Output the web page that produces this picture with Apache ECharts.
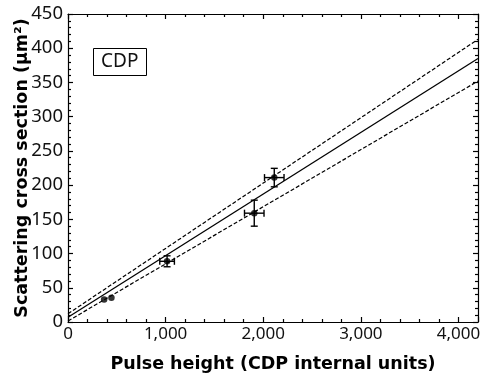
<!DOCTYPE html>
<html><head><meta charset="utf-8">
<script src="https://cdn.jsdelivr.net/npm/echarts@6/dist/echarts.min.js"></script>
<style>html,body{margin:0;padding:0;background:#fff}#c{width:480px;height:374px}</style>
</head><body><div id="c"></div>
<script>
var pulseHeight = [370, 445, 1015, 1908, 2113];
var crossSection = [33, 35.5, 88.7, 159, 211];
var pulseErr = [0, 0, 75, 100, 100];
var sectionErr = [0, 0, 8, 19, 13.5];
var fitX = [0, 4200];
var fitMid = [7, 385];
var fitUpper = [12, 413];
var fitLower = [1.5, 352];
var xTicks = [0, 1000, 2000, 3000, 4000];
var yTicks = [0, 50, 100, 150, 200, 250, 300, 350, 400, 450];

var F = 'DejaVu Sans';
var FL = 'Noto Sans';
var pts = pulseHeight.map(function(x,i){return [x, crossSection[i]];});
var errData = pulseHeight.map(function(x,i){return [x, crossSection[i], pulseErr[i], sectionErr[i]];});
function lineData(ys){return fitX.map(function(x,i){return [x, ys[i]];});}

var chart = echarts.init(document.getElementById('c'), null, {renderer:'canvas'});
var axisCommon = {
  type:'value',
  axisLine:{show:true, onZero:false, lineStyle:{color:'#000', width:1.2}},
  axisTick:{show:true, inside:true, length:5, lineStyle:{color:'#000', width:1.2}},
  minorTick:{show:true, splitNumber:5, length:3, lineStyle:{color:'#000', width:1.2}},
  splitLine:{show:false}
};
function merge(a,b){return Object.assign({}, JSON.parse(JSON.stringify(a)), b);}

chart.setOption({
  animation:false,
  backgroundColor:'#fff',
  title:{
    text:'CDP', left:93, top:48, padding:[4,8,4,8],
    borderColor:'#000', borderWidth:1,
    textStyle:{fontFamily:FL, fontSize:19, fontWeight:'normal', color:'#111', lineHeight:20}
  },
  grid:{left:68, right:2, top:14, bottom:52, containLabel:false, outerBoundsMode:'none'},
  xAxis:[
    merge(axisCommon,{min:0, max:4200, interval:1000, position:'bottom',
      name:'Pulse height (CDP internal units)', nameLocation:'middle', nameGap:33, nameMoveOverlap:false,
      nameTextStyle:{fontFamily:F, fontSize:17.5, fontWeight:'bold', color:'#000'},
      axisLabel:{show:true, fontFamily:FL, fontSize:17, color:'#111', margin:4, showMaxLabel:false,
        formatter:function(v){return xTicks.indexOf(v)>=0 ? v.toLocaleString('en-US') : '';}}}),
    merge(axisCommon,{min:0, max:4200, interval:1000, position:'top', axisLabel:{show:false}})
  ],
  yAxis:[
    merge(axisCommon,{min:0, max:450, interval:50, position:'left',
      name:'Scattering cross section (µm²)', nameLocation:'middle', nameGap:37, nameMoveOverlap:false,
      nameTextStyle:{fontFamily:F, fontSize:17.5, fontWeight:'bold', color:'#000'},
      axisLabel:{show:true, fontFamily:FL, fontSize:18.5, color:'#111', margin:5,
        formatter:function(v){return yTicks.indexOf(v)>=0 ? String(v) : '';}}}),
    merge(axisCommon,{min:0, max:450, interval:50, position:'right', axisLabel:{show:false}})
  ],
  series:[
    {type:'line', data:lineData(fitMid), symbol:'none', lineStyle:{color:'#000', width:1.3}, silent:true},
    {type:'line', data:lineData(fitUpper), symbol:'none', lineStyle:{color:'#000', width:1.2, type:[4,2]}, silent:true},
    {type:'line', data:lineData(fitLower), symbol:'none', lineStyle:{color:'#000', width:1.2, type:[4,2]}, silent:true},
    {type:'custom', data:errData, silent:true,
      renderItem:function(params, api){
        var x = api.value(0), y = api.value(1), ex = api.value(2), ey = api.value(3);
        var c = [];
        var style = {stroke:'#000', lineWidth:1.4};
        var cap = 3.5;
        if (ex > 0) {
          var l = api.coord([x-ex, y]), r = api.coord([x+ex, y]);
          c.push({type:'line', shape:{x1:l[0], y1:l[1], x2:r[0], y2:r[1]}, style:style});
          c.push({type:'line', shape:{x1:l[0], y1:l[1]-cap, x2:l[0], y2:l[1]+cap}, style:style});
          c.push({type:'line', shape:{x1:r[0], y1:r[1]-cap, x2:r[0], y2:r[1]+cap}, style:style});
        }
        if (ey > 0) {
          var t = api.coord([x, y+ey]), b = api.coord([x, y-ey]);
          c.push({type:'line', shape:{x1:t[0], y1:t[1], x2:b[0], y2:b[1]}, style:style});
          c.push({type:'line', shape:{x1:t[0]-cap, y1:t[1], x2:t[0]+cap, y2:t[1]}, style:style});
          c.push({type:'line', shape:{x1:b[0]-cap, y1:b[1], x2:b[0]+cap, y2:b[1]}, style:style});
        }
        return {type:'group', children:c};
      }},
    {type:'scatter', data:pts, symbol:'circle', symbolSize:6.5, itemStyle:{color:'#000'}, silent:true}
  ]
});
</script></body></html>
